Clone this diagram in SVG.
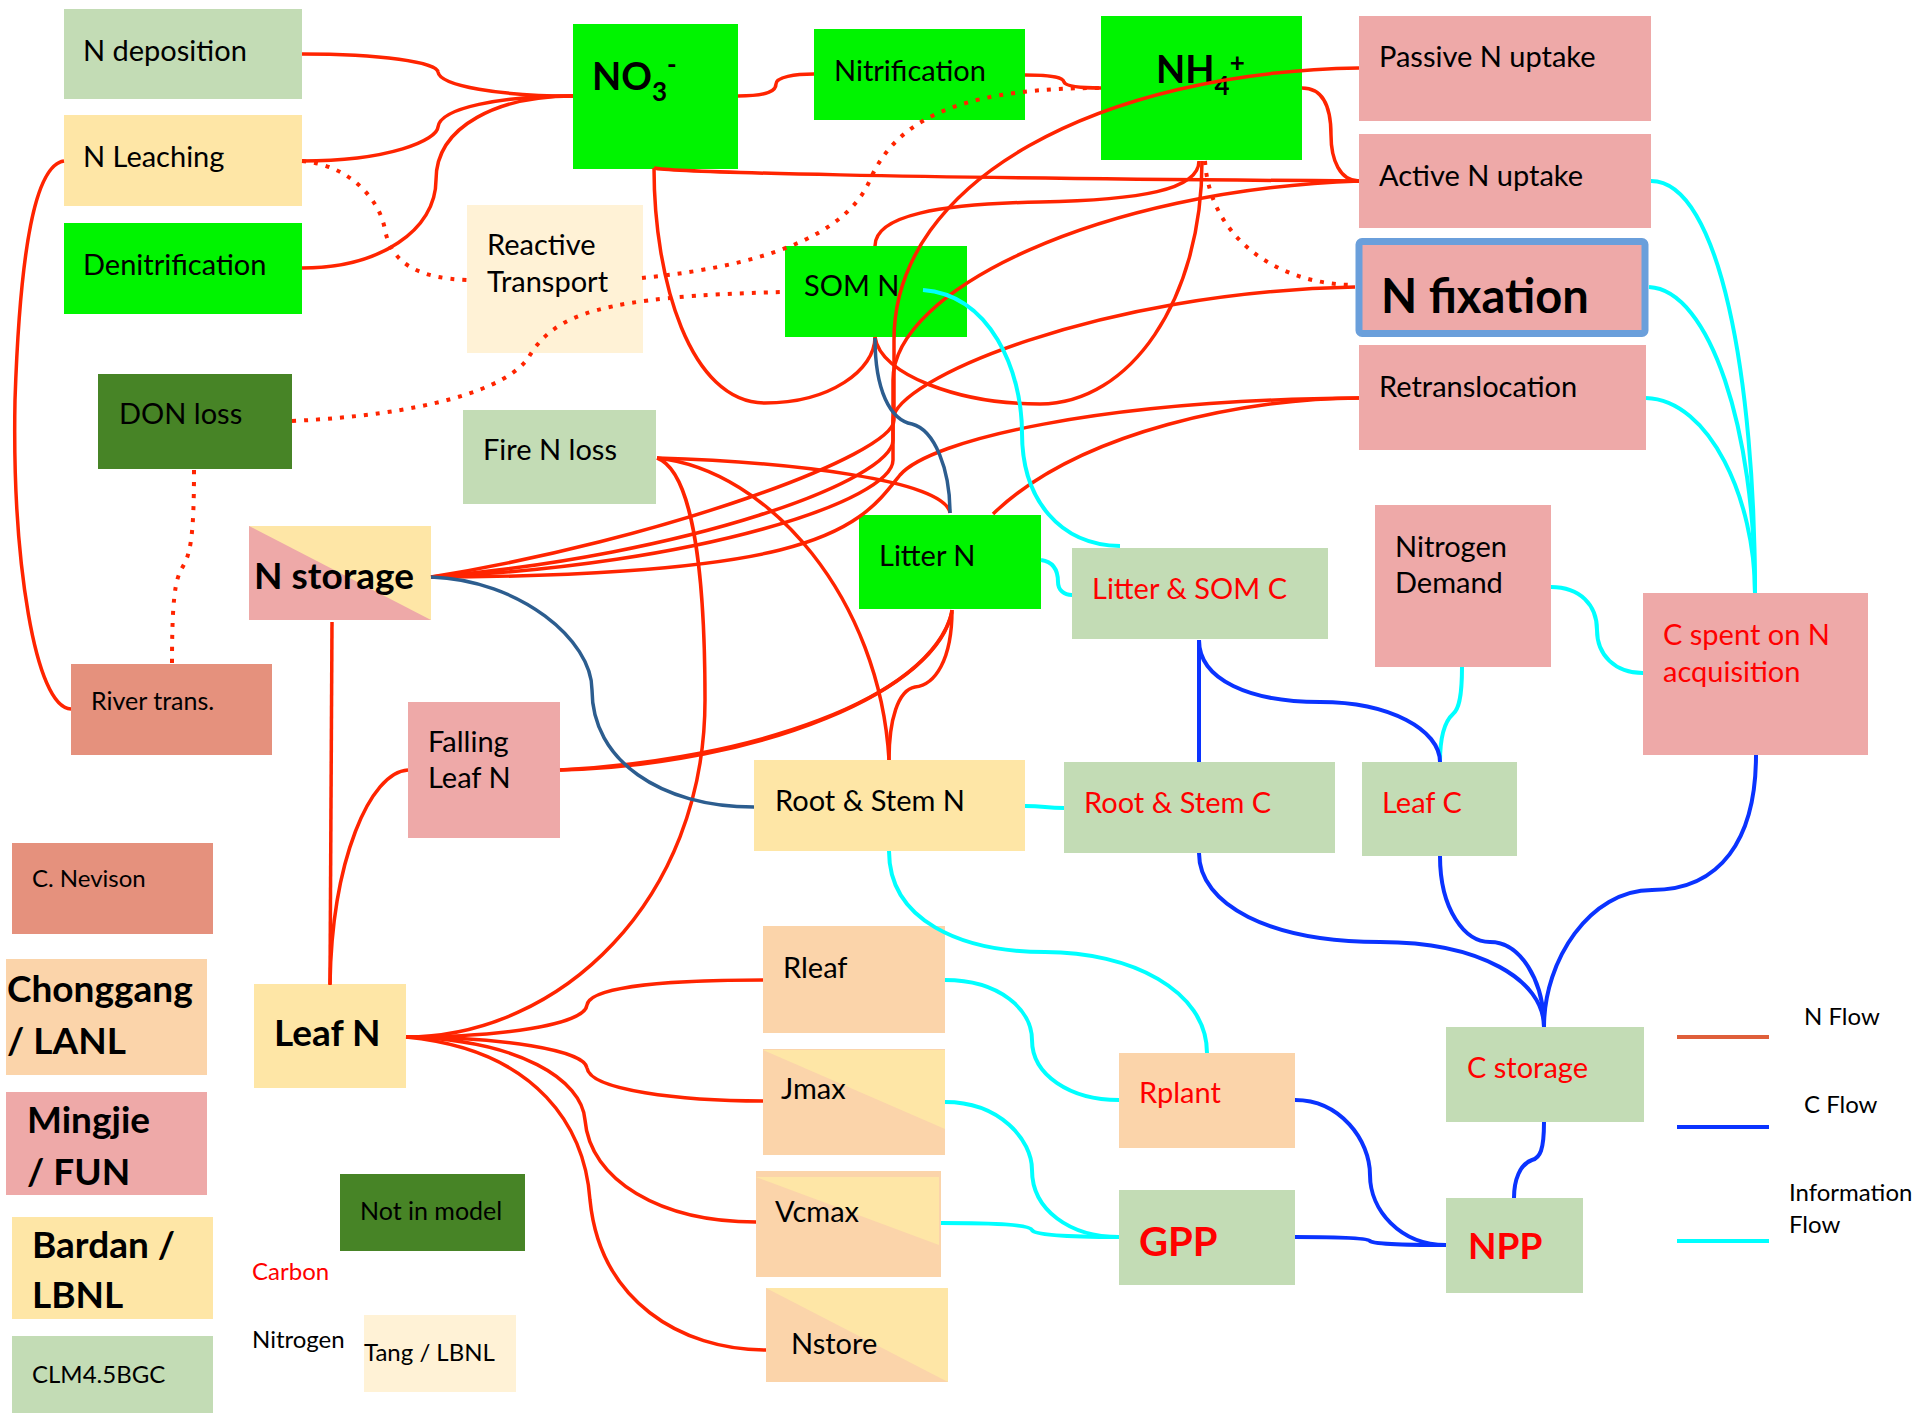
<svg xmlns="http://www.w3.org/2000/svg" width="1921" height="1413" viewBox="0 0 1921 1413">
<style>
text{font-family:Lato,"Liberation Sans",sans-serif;font-size:29px;fill:#000}
.b{font-weight:bold}
.r{fill:#ff0000}
.s{font-size:24px}
.f25{font-size:25px}
.f37{font-size:37px}
.f38{font-size:38px}
.f40{font-size:40px}
.f47{font-size:47px}
.lg{fill:#c3dcb5}.ye{fill:#fee6a6}.bg{fill:#00f400}.cr{fill:#fff2d6}.dg{fill:#478426}.pk{fill:#eea9a8}.sa{fill:#e5917d}.pe{fill:#fbd4aa}
.n{fill:none;stroke:#ff2400;stroke-width:3.5}
.d{fill:none;stroke:#ff2400;stroke-width:4;stroke-dasharray:4 8}
.k{fill:none;stroke:#2c5d8f;stroke-width:3.5}
.c{fill:none;stroke:#00ffff;stroke-width:4}
.u{fill:none;stroke:#0a33ff;stroke-width:4}
</style>
<rect width="1921" height="1413" fill="#fff"/>
<g id="nodes">
<g id="n-deposition"><rect class="lg" x="64" y="9" width="238" height="90"/><text x="83" y="61">N deposition</text></g>
<g id="n-leaching"><rect class="ye" x="64" y="115" width="238" height="91"/><text x="83" y="167">N Leaching</text></g>
<g id="denitrification"><rect class="bg" x="64" y="223" width="238" height="91"/><text x="83" y="275">Denitrification</text></g>
<g id="no3"><rect class="bg" x="573" y="24" width="165" height="145"/><text class="b f38" x="592" y="90">NO<tspan font-size="26" dy="11">3</tspan><tspan font-size="26" dy="-27">-</tspan></text></g>
<g id="nitrification"><rect class="bg" x="814" y="29" width="211" height="91"/><text x="834" y="81">Nitrification</text></g>
<g id="nh4"><rect class="bg" x="1101" y="16" width="201" height="144"/><text class="b f38" x="1156" y="83">NH<tspan font-size="26" dy="12">4</tspan><tspan font-size="26" dy="-23">+</tspan></text></g>
<g id="passive"><rect class="pk" x="1359" y="16" width="292" height="105"/><text x="1379" y="67">Passive N uptake</text></g>
<g id="active"><rect class="pk" x="1359" y="134" width="292" height="94"/><text x="1379" y="186">Active N uptake</text></g>
<g id="nfix"><rect class="pk" x="1359" y="241.5" width="286" height="92" rx="3" stroke="#6a9fdb" stroke-width="7"/><text class="b f47" x="1381" y="313">N fixation</text></g>
<g id="retrans"><rect class="pk" x="1359" y="345" width="287" height="105"/><text x="1379" y="397">Retranslocation</text></g>
<g id="reactive"><rect class="cr" x="467" y="205" width="176" height="148"/><text x="487" y="255">Reactive</text><text x="487" y="292">Transport</text></g>
<g id="somn"><rect class="bg" x="785" y="246" width="182" height="91"/><text x="804" y="296">SOM N</text></g>
<g id="donloss"><rect class="dg" x="98" y="374" width="194" height="95"/><text x="119" y="424">DON loss</text></g>
<g id="firenloss"><rect class="lg" x="463" y="410" width="193" height="94"/><text x="483" y="460">Fire N loss</text></g>
<g id="littern"><rect class="bg" x="859" y="515" width="182" height="94"/><text x="879" y="566">Litter N</text></g>
<g id="littersomc"><rect class="lg" x="1072" y="548" width="256" height="91"/><text class="r" x="1092" y="599">Litter &amp; SOM C</text></g>
<g id="ndemand"><rect class="pk" x="1375" y="505" width="176" height="162"/><text x="1395" y="557">Nitrogen</text><text x="1395" y="593">Demand</text></g>
<g id="cspent"><rect class="pk" x="1643" y="593" width="225" height="162"/><text class="r" x="1663" y="645">C spent on N</text><text class="r" x="1663" y="682">acquisition</text></g>
<g id="nstorage"><rect class="pk" x="249" y="526" width="182" height="94"/><polygon fill="#fee6a6" points="249,526 431,526 431,620"/><text class="b f37" x="254" y="589">N storage</text></g>
<g id="rivertrans"><rect class="sa" x="71" y="664" width="201" height="91"/><text class="f25" x="91" y="710">River trans.</text></g>
<g id="fallingleafn"><rect class="pk" x="408" y="702" width="152" height="136"/><text x="428" y="752">Falling</text><text x="428" y="788">Leaf N</text></g>
<g id="rootstemn"><rect class="ye" x="754" y="760" width="271" height="91"/><text x="775" y="811">Root &amp; Stem N</text></g>
<g id="rootstemc"><rect class="lg" x="1064" y="762" width="271" height="91"/><text class="r" x="1084" y="813">Root &amp; Stem C</text></g>
<g id="leafc"><rect class="lg" x="1362" y="762" width="155" height="94"/><text class="r" x="1382" y="813">Leaf C</text></g>
<g id="nevison"><rect class="sa" x="12" y="843" width="201" height="91"/><text class="s" x="32" y="887">C. Nevison</text></g>
<g id="chonggang"><rect class="pe" x="6" y="959" width="201" height="116"/><text class="b f37" x="7" y="1002">Chonggang</text><text class="b f37" x="7" y="1054">/ LANL</text></g>
<g id="mingjie"><rect class="pk" x="6" y="1092" width="201" height="103"/><text class="b f37" x="27" y="1133">Mingjie</text><text class="b f37" x="27" y="1185">/ FUN</text></g>
<g id="bardan"><rect class="ye" x="12" y="1217" width="201" height="102"/><text class="b f37" x="32" y="1258">Bardan /</text><text class="b f37" x="32" y="1308">LBNL</text></g>
<g id="clm"><rect class="lg" x="12" y="1336" width="201" height="77"/><text class="s" x="32" y="1383">CLM4.5BGC</text></g>
<g id="leafn"><rect class="ye" x="254" y="984" width="152" height="104"/><text class="b f37" x="274" y="1046">Leaf N</text></g>
<g id="rleaf"><rect class="pe" x="763" y="926" width="182" height="107"/><text x="783" y="978">Rleaf</text></g>
<g id="jmax"><rect class="pe" x="763" y="1049" width="182" height="106"/><polygon fill="#fee6a6" points="763,1050 945,1050 945,1129"/><text x="781" y="1099">Jmax</text></g>
<g id="vcmax"><rect class="pe" x="756" y="1171" width="185" height="106"/><polygon fill="#fee6a6" points="756,1177 939,1177 939,1245"/><text x="775" y="1222">Vcmax</text></g>
<g id="nstore"><rect class="pe" x="766" y="1288" width="182" height="94"/><polygon fill="#fee6a6" points="766,1288 948,1288 948,1382"/><text x="791" y="1354">Nstore</text></g>
<g id="rplant"><rect class="pe" x="1119" y="1053" width="176" height="95"/><text class="r" x="1139" y="1103">Rplant</text></g>
<g id="gpp"><rect class="lg" x="1119" y="1190" width="176" height="95"/><text class="b r f40" x="1139" y="1256">GPP</text></g>
<g id="cstorage"><rect class="lg" x="1446" y="1027" width="198" height="95"/><text class="r" x="1467" y="1078">C storage</text></g>
<g id="npp"><rect class="lg" x="1446" y="1198" width="137" height="95"/><text class="b r f37" x="1468" y="1259">NPP</text></g>
<g id="notinmodel"><rect class="dg" x="340" y="1174" width="185" height="77"/><text class="f25" x="360" y="1220">Not in model</text></g>
<g id="tang"><rect class="cr" x="364" y="1315" width="152" height="77"/><text class="s" x="364" y="1361">Tang / LBNL</text></g>
<g id="legend-text"><text class="s r" x="252" y="1280">Carbon</text><text class="s" x="252" y="1348">Nitrogen</text>
<text class="s" x="1804" y="1025">N Flow</text><text class="s" x="1804" y="1113">C Flow</text><text class="s" x="1789" y="1201">Information</text><text class="s" x="1789" y="1233">Flow</text></g>
</g>
<g id="connectors">
<path class="n" d="M302,54 C380,54 437,62 438,72 C440,86 500,96 573,96"/>
<path class="n" d="M302,161 C390,161 437,140 438,127 C440,108 500,96 573,96"/>
<path class="n" d="M302,268 C380,268 436,230 436,180 C436,125 500,96 573,96"/>
<path class="n" d="M64,161 C35,165 20,250 15,400 C12,560 35,708 71,709"/>
<path class="n" d="M738,96 C770,96 776,90 776,84 C776,77 795,74 814,74"/>
<path class="n" d="M1025,75 C1055,75 1063,78 1064,82 C1066,87 1085,88 1101,88"/>
<path class="n" d="M1302,88 C1325,88 1331,110 1331,135 C1331,160 1340,181 1359,181"/>
<path class="n" d="M654,168 C670,172 900,178 1359,181"/>
<path class="n" d="M654,168 C654,280 690,403 765,403 C830,403 875,370 875,337"/>
<path class="n" d="M1199,161 C1199,190 1140,200 1040,202 C940,204 875,215 875,246"/>
<path class="n" d="M1202,161 C1202,300 1130,404 1040,404 C960,404 880,375 875,337"/>
<path class="n" d="M1359,68 C1100,72 894,180 894,340 L894,420 C894,455 660,540 431,577"/>
<path class="n" d="M1359,181 C1100,190 893,290 893,380 L893,440 C893,480 690,555 431,577"/>
<path class="n" d="M1355,287 C1100,292 893,380 893,420 L893,460 C893,500 700,565 431,577"/>
<path class="n" d="M1359,398 C1100,400 930,440 900,475 C880,500 860,530 780,550 C700,570 560,577 431,577"/>
<path class="n" d="M1359,398 C1250,398 1080,430 993,514"/>
<path class="n" d="M657,458 C790,462 945,480 950,513"/>
<path class="n" d="M657,458 C770,470 880,600 889,760"/>
<path class="n" d="M657,458 C690,470 705,560 705,700 C705,900 560,1037 406,1037"/>
<path class="n" d="M952,610 C952,660 935,685 915,687 C898,690 889,720 889,760"/>
<path class="n" d="M560,770 C760,765 940,690 952,610"/>
<path class="n" d="M560,770 C750,760 930,700 952,612"/>
<path class="n" d="M332,622 L330,985"/>
<path class="n" d="M408,770 C370,772 332,860 330,984"/>
<path class="n" d="M406,1037 C500,1037 585,1025 587,1005 C590,985 680,980 763,980"/>
<path class="n" d="M406,1037 C500,1037 585,1050 587,1068 C590,1090 680,1101 763,1101"/>
<path class="n" d="M406,1037 C520,1040 582,1080 585,1120 C590,1180 660,1222 756,1222"/>
<path class="n" d="M406,1037 C540,1050 585,1130 590,1200 C600,1300 680,1350 766,1350"/>
<path class="k" d="M875,338 C875,390 890,420 912,424 C935,430 950,470 950,513"/>
<path class="k" d="M431,577 C520,580 592,640 592,690 C592,760 660,807 754,807"/>
<path class="d" d="M302,161 C350,165 380,200 385,230 C392,265 420,278 467,280"/>
<path class="d" d="M642,278 C720,270 840,250 870,180 C900,110 980,88 1101,88"/>
<path class="d" d="M292,421 C420,415 510,390 530,355 C555,315 600,296 785,292"/>
<path class="d" d="M194,470 C194,540 190,555 182,568 C175,580 172,600 172,664"/>
<path class="d" d="M1205,161 C1210,240 1280,285 1355,285"/>
<path class="c" d="M923,290 C990,295 1022,370 1022,433 C1022,500 1060,545 1120,546"/>
<path class="c" d="M1041,560 C1055,562 1058,572 1058,582 C1058,590 1064,595 1072,595"/>
<path class="c" d="M1025,806 C1045,806 1045,808 1064,808"/>
<path class="c" d="M889,851 C889,920 960,952 1045,952 C1130,952 1207,990 1207,1053"/>
<path class="c" d="M945,980 C1000,980 1032,1010 1032,1040 C1032,1075 1070,1100 1119,1100"/>
<path class="c" d="M945,1102 C1000,1102 1032,1140 1032,1170 C1032,1210 1070,1237 1119,1237"/>
<path class="c" d="M941,1223 C1000,1223 1030,1225 1032,1230 C1035,1236 1080,1237 1119,1237"/>
<path class="c" d="M1462,667 C1462,700 1458,710 1453,714 C1444,722 1440,740 1440,762"/>
<path class="c" d="M1551,587 C1580,587 1597,605 1597,630 C1597,655 1615,673 1643,673"/>
<path class="c" d="M1651,181 C1720,181 1755,380 1755,593"/>
<path class="c" d="M1649,287 C1710,290 1755,430 1755,593"/>
<path class="c" d="M1646,398 C1710,400 1755,500 1755,593"/>
<path class="u" d="M1199,640 L1199,762"/>
<path class="u" d="M1199,640 C1199,680 1250,702 1320,702 C1390,702 1440,730 1440,762"/>
<path class="u" d="M1199,853 C1199,905 1270,942 1380,942 C1480,942 1544,980 1544,1027"/>
<path class="u" d="M1440,856 C1440,910 1465,942 1490,942 C1520,942 1544,980 1544,1027"/>
<path class="u" d="M1756,755 C1756,840 1720,890 1652,890 C1590,890 1544,960 1544,1027"/>
<path class="u" d="M1544,1122 C1544,1150 1540,1158 1532,1160 C1520,1164 1514,1180 1514,1198"/>
<path class="u" d="M1295,1100 C1340,1100 1370,1140 1370,1175 C1370,1210 1400,1245 1446,1245"/>
<path class="u" d="M1295,1237 C1340,1237 1368,1238 1370,1241 C1373,1244 1410,1245 1446,1245"/>
</g>
<g id="legend">
<line x1="1677" y1="1037" x2="1769" y2="1037" stroke="#df5f3a" stroke-width="4"/>
<line x1="1677" y1="1127" x2="1769" y2="1127" stroke="#0a33ff" stroke-width="4"/>
<line x1="1677" y1="1241" x2="1769" y2="1241" stroke="#00ffff" stroke-width="4"/>
</g>
</svg>
